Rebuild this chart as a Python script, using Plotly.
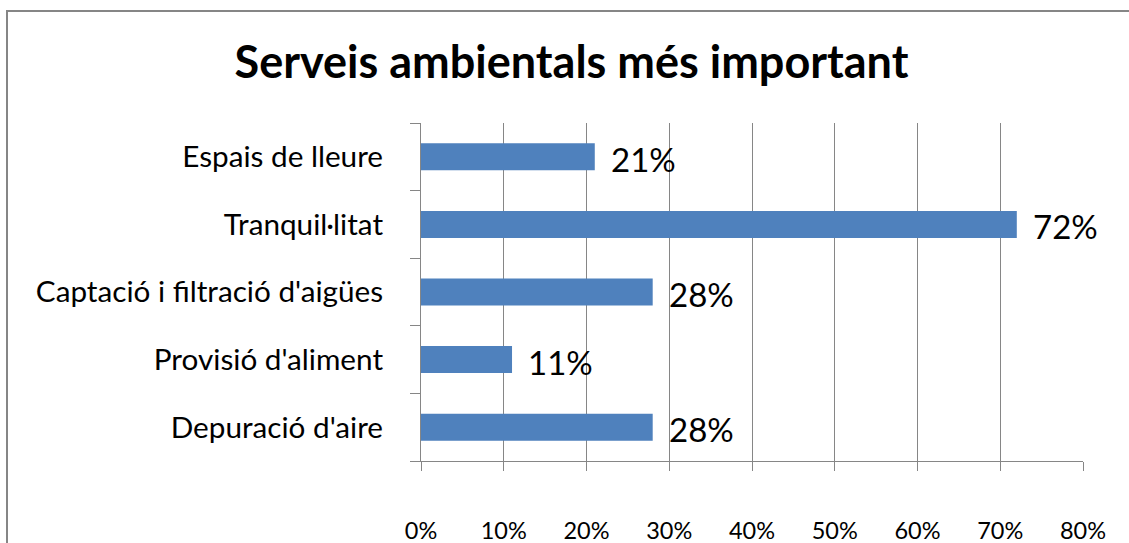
import plotly.graph_objects as go

categories = ["Depuració d'aire", "Provisió d'aliment", "Captació i filtració d'aigües", "Tranquil·litat", "Espais de lleure"]
values = [0.28, 0.11, 0.28, 0.72, 0.21]
value_labels = ["28%", "11%", "28%", "72%", "21%"]
x_ticks = [0, 0.1, 0.2, 0.3, 0.4, 0.5, 0.6, 0.7, 0.8]
x_tick_labels = ["0%", "10%", "20%", "30%", "40%", "50%", "60%", "70%", "80%"]
title = "Serveis ambientals més important"

FONT = "Lato"
GRAY = "#868686"

W, H = 1129, 543
L, R, T, B = 421, 46, 123, 82
pw, ph = W - L - R, H - T - B

fig = go.Figure(go.Bar(
    x=values, y=categories, orientation="h",
    marker=dict(color="#4F81BD", line=dict(width=0)),
    hoverinfo="skip",
))

for v, c, lab in zip(values, categories, value_labels):
    fig.add_annotation(x=v, y=c, xref="x", yref="y", text=lab, showarrow=False,
                       xanchor="left", yanchor="middle", xshift=14, yshift=-2,
                       font=dict(family=FONT, size=33, color="black"))

# outer frame
fig.add_shape(type="rect", xref="paper", yref="paper",
              x0=(7 - L) / pw, x1=2, y0=-1, y1=1 + (T - 11) / ph,
              line=dict(color=GRAY, width=2), fillcolor="rgba(0,0,0,0)", layer="below")

fig.update_layout(
    width=W, height=H,
    margin=dict(l=L, r=R, t=T, b=B, pad=0, autoexpand=False),
    paper_bgcolor="white", plot_bgcolor="white",
    bargap=0.6,
    showlegend=False,
    title=dict(text="<b>" + title + "</b>", x=571.5 / W, y=1 - 62 / H,
               xref="container", yref="container", xanchor="center", yanchor="middle",
               font=dict(family=FONT, size=45, color="black")),
    xaxis=dict(range=[0, 0.8], tickvals=x_ticks, ticktext=x_tick_labels,
               showgrid=True, gridcolor=GRAY, gridwidth=1,
               showline=True, linecolor=GRAY, linewidth=1,
               ticks="outside", ticklen=9, tickcolor=GRAY, tickwidth=1,
               ticklabelstandoff=40, zeroline=False, automargin=False,
               tickfont=dict(family=FONT, size=23.5, color="black")),
    yaxis=dict(showline=True, linecolor=GRAY, linewidth=1,
               ticks="outside", tickson="boundaries", ticklen=10, tickcolor=GRAY, tickwidth=1,
               showgrid=False, ticklabelstandoff=31, automargin=False,
               tickfont=dict(family=FONT, size=29.7, color="black")),
)

fig.write_html("out.html", config={"displayModeBar": False},
               post_script="document.body.style.margin='0px';document.body.style.overflow='hidden';")
